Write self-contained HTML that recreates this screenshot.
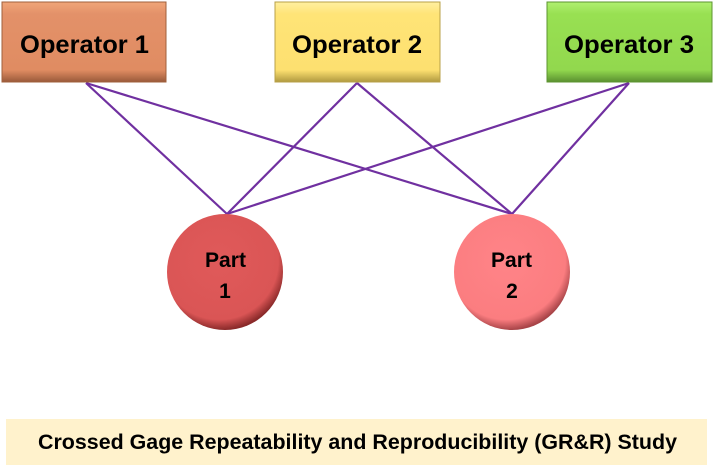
<!DOCTYPE html>
<html><head><style>
html,body{margin:0;padding:0;background:#fff;width:714px;height:472px;overflow:hidden}
</style></head><body>
<svg width="714" height="472" xmlns="http://www.w3.org/2000/svg" font-family="Liberation Sans, sans-serif" font-weight="bold">
<defs>
<linearGradient id="g1" x1="0" y1="0" x2="0" y2="1"><stop offset="0" stop-color="#f0a578"/><stop offset="0.15" stop-color="#e39169"/><stop offset="0.85" stop-color="#e08c62"/><stop offset="1" stop-color="#9a5a3a"/></linearGradient>
<linearGradient id="g2" x1="0" y1="0" x2="0" y2="1"><stop offset="0" stop-color="#fff0a0"/><stop offset="0.15" stop-color="#ffe477"/><stop offset="0.85" stop-color="#fde070"/><stop offset="1" stop-color="#b09a40"/></linearGradient>
<linearGradient id="g3" x1="0" y1="0" x2="0" y2="1"><stop offset="0" stop-color="#b0f070"/><stop offset="0.15" stop-color="#98e052"/><stop offset="0.85" stop-color="#92d84e"/><stop offset="1" stop-color="#5a9030"/></linearGradient>
<radialGradient id="c1" cx="0.45" cy="0.4" r="0.6"><stop offset="0" stop-color="#e05a5a"/><stop offset="0.85" stop-color="#da5555"/><stop offset="1" stop-color="#8a2a2a"/></radialGradient>
<radialGradient id="c2" cx="0.45" cy="0.4" r="0.6"><stop offset="0" stop-color="#ff8488"/><stop offset="0.85" stop-color="#fb7d80"/><stop offset="1" stop-color="#a84448"/></radialGradient>
</defs>
<g stroke="#7030a0" stroke-width="2.2" fill="none">
<line x1="86" y1="83" x2="227" y2="214"/>
<line x1="86" y1="83" x2="512" y2="214"/>
<line x1="357" y1="83" x2="227" y2="214"/>
<line x1="357" y1="83" x2="512" y2="214"/>
<line x1="629" y1="83" x2="227" y2="214"/>
<line x1="629" y1="83" x2="512" y2="214"/>
</g>
<rect x="2" y="2" width="164" height="80" fill="url(#g1)" stroke="#a0603c"/>
<rect x="275" y="2" width="165" height="80" fill="url(#g2)" stroke="#b8a048"/>
<rect x="547" y="2" width="165" height="80" fill="url(#g3)" stroke="#5c9430"/>
<text x="20" y="53" font-size="25" textLength="129" lengthAdjust="spacingAndGlyphs">Operator 1</text>
<text x="292" y="53" font-size="25" textLength="130" lengthAdjust="spacingAndGlyphs">Operator 2</text>
<text x="564" y="53" font-size="25" textLength="130" lengthAdjust="spacingAndGlyphs">Operator 3</text>
<circle cx="225" cy="272" r="58" fill="url(#c1)"/>
<circle cx="512" cy="272" r="58" fill="url(#c2)"/>
<text x="205" y="267" font-size="21" textLength="41" lengthAdjust="spacingAndGlyphs">Part</text>
<text x="225" y="298" font-size="21" text-anchor="middle">1</text>
<text x="491" y="267" font-size="21" textLength="41" lengthAdjust="spacingAndGlyphs">Part</text>
<text x="512" y="298" font-size="21" text-anchor="middle">2</text>
<rect x="6" y="419" width="701" height="46" fill="#fff2cc"/>
<text x="38" y="449" font-size="21" textLength="639" lengthAdjust="spacingAndGlyphs">Crossed Gage Repeatability and Reproducibility (GR&amp;R) Study</text>
</svg>
</body></html>
